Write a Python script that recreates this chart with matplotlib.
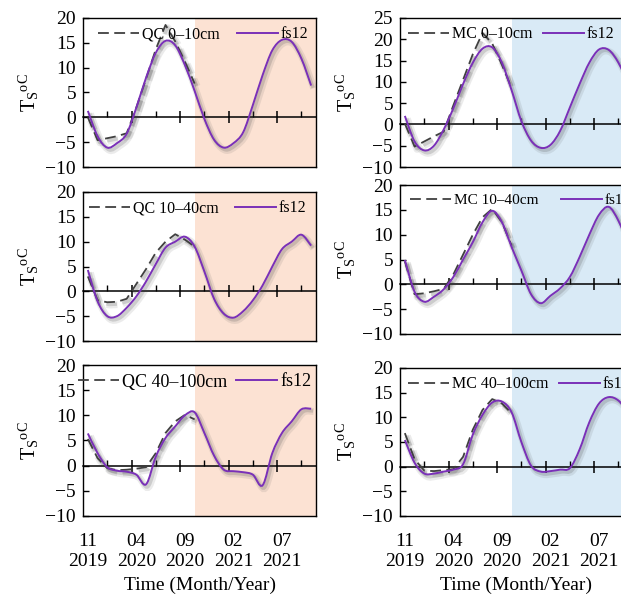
import numpy as np
import matplotlib
matplotlib.use("Agg")
import matplotlib.pyplot as plt
from matplotlib.path import Path
from matplotlib.patches import PathPatch
from matplotlib.lines import Line2D
import matplotlib.patheffects as pe

plt.rcParams['font.family'] = ['Liberation Serif', 'DejaVu Serif']
plt.rcParams['mathtext.fontset'] = 'custom'
plt.rcParams['mathtext.rm'] = 'Liberation Serif'
plt.rcParams['mathtext.it'] = 'Liberation Serif:italic'
plt.rcParams['font.size'] = 14

# months since Nov 2019 (monthly values, Nov 2019 - Oct 2021)
months = np.arange(24)
obs_months = np.arange(12)   # observations, Nov 2019 - Oct 2020

tick_months = [0, 5, 10, 15, 20]
tick_labels = ['11\n2019', '04\n2020', '09\n2020', '02\n2021', '07\n2021']

# fs12 simulated soil temperature
fs12_qc_0_10 = [1.3, -3.8, -6.1, -5.2, -3.3, 2.0, 8.0, 13.0, 15.4, 14.5, 10.5, 5.3,
                -0.3, -4.5, -6.1, -5.2, -3.0, 2.5, 8.5, 13.5, 15.6, 15.2, 11.8, 6.4]
fs12_qc_10_40 = [4.3, -2.0, -5.0, -5.0, -3.3, -1.0, 2.0, 5.5, 8.8, 10.0, 11.0, 9.0,
                 4.0, -1.5, -4.5, -5.3, -4.0, -1.8, 1.2, 5.0, 8.5, 10.0, 11.4, 9.2]
fs12_qc_40_100 = [6.4, 2.5, -0.3, -1.0, -1.2, -1.8, -3.7, 1.8, 5.5, 7.8, 10.0, 10.6,
                  6.5, 2.0, -0.8, -1.1, -1.3, -1.8, -3.9, 2.5, 6.5, 8.8, 11.2, 11.3]
fs12_mc_0_10 = [2.0, -4.0, -6.1, -5.0, -1.2, 3.8, 9.5, 14.5, 17.8, 18.1, 14.5, 8.0,
                0.8, -3.8, -5.5, -4.8, -1.5, 4.0, 9.5, 14.5, 17.6, 17.5, 14.5, 9.5]
fs12_mc_10_40 = [4.9, -1.5, -3.5, -2.5, -1.0, 1.5, 5.0, 8.5, 12.5, 14.8, 12.5, 7.5,
                 2.8, -2.0, -3.8, -2.3, -0.8, 1.5, 5.5, 10.0, 14.0, 15.6, 12.8, 8.0]
fs12_mc_40_100 = [5.4, 0.8, -1.4, -1.4, -1.0, -0.6, 0.5, 6.5, 10.5, 13.0, 13.2, 11.0,
                  5.0, 0.2, -1.0, -0.9, -0.6, -0.3, 3.5, 9.0, 12.8, 14.1, 13.4, 11.0]

# observed soil temperature
obs_qc_0_10 = [0.0, -4.6, -4.2, -3.8, -3.2, 2.0, 7.8, 13.7, 18.6, 15.3, 11.2, 6.8]
obs_qc_10_40 = [3.0, -1.8, -2.2, -2.1, -1.5, 1.5, 4.5, 7.8, 10.0, 11.5, 10.4, 9.0]
obs_qc_40_100 = [5.3, 1.5, -0.5, -0.9, -0.8, -0.6, -0.3, 2.5, 6.5, 8.8, 10.1, 9.2]
obs_mc_0_10 = [0.2, -5.2, -4.0, -2.8, -1.7, 4.5, 10.5, 16.5, 21.5, 19.0, 14.0, 8.5]
obs_mc_10_40 = [4.6, -2.0, -1.8, -1.4, -0.9, 2.0, 6.0, 10.0, 13.5, 15.2, 12.5, 7.8]
obs_mc_40_100 = [6.8, 1.5, -0.8, -0.9, -0.7, -0.5, 2.0, 7.5, 11.5, 13.7, 12.8, 10.8]

obs_labels = ['QC 0\u201310cm', 'MC 0\u201310cm', 'QC 10\u201340cm',
              'MC 10\u201340cm', 'QC 40\u2013100cm', 'MC 40\u2013100cm']
ylims = [(-10, 20), (-10, 25), (-10, 20), (-10, 20), (-10, 20), (-10, 20)]
shade_start = 11

purple = '#7A30B8'
dash_col = '#404040'
shade_cols = ['#FCE2D3', '#D9EAF6']

shadow = [pe.SimpleLineShadow(offset=(1.8, -2.0), shadow_color='0.25', alpha=0.10, linewidth=5),
          pe.SimpleLineShadow(offset=(1.4, -1.6), shadow_color='0.25', alpha=0.18, linewidth=2.5),
          pe.Normal()]


def smooth_path(x, y):
    # Catmull-Rom style cubic Bezier through the monthly values
    x = np.asarray(x, float)
    y = np.asarray(y, float)
    n = len(x)
    verts = [(x[0], y[0])]
    codes = [Path.MOVETO]
    for i in range(n - 1):
        i0 = max(i - 1, 0)
        i3 = min(i + 2, n - 1)
        c1 = (x[i] + (x[i + 1] - x[i0]) / 6, y[i] + (y[i + 1] - y[i0]) / 6)
        c2 = (x[i + 1] - (x[i3] - x[i]) / 6, y[i + 1] - (y[i3] - y[i]) / 6)
        verts += [c1, c2, (x[i + 1], y[i + 1])]
        codes += [Path.CURVE4] * 3
    return Path(verts, codes)


fig = plt.figure(figsize=(6.21, 5.96), dpi=100)
W, H = 621., 596.
# [left, top, bottom] in pixels for each panel
boxes = [(83, 18, 167), (400, 18, 167),
         (83, 192, 341), (400, 185, 334),
         (83, 365, 516), (400, 368, 516)]
# legend left edge, column gap (px) and font size per panel
leg_x = [15, 8, 6, 10, -5, 8]
leg_gap = [17, 10, 16, 22, 9, 10]
leg_fs = [11.5, 11.5, 11.5, 11, 13, 11.5]

sims = [fs12_qc_0_10, fs12_mc_0_10, fs12_qc_10_40, fs12_mc_10_40, fs12_qc_40_100, fs12_mc_40_100]
obss = [obs_qc_0_10, obs_mc_0_10, obs_qc_10_40, obs_mc_10_40, obs_qc_40_100, obs_mc_40_100]

for k in range(6):
    left, top, bot = boxes[k]
    ax = fig.add_axes([left / W, 1 - bot / H, 233 / W, (bot - top) / H])
    ymin, ymax = ylims[k]
    ax.set_xlim(-0.5, 23.5)
    ax.set_ylim(ymin, ymax)
    ax.axvspan(shade_start, 23.5, color=shade_cols[k % 2], lw=0, zorder=0)

    ax.plot(obs_months, obss[k], color=dash_col, lw=1.3, dashes=(6, 3),
            path_effects=shadow, zorder=3)
    ax.add_patch(PathPatch(smooth_path(months, sims[k]), fill=False,
                           edgecolor=purple, lw=1.4, path_effects=shadow, zorder=4))

    for s in ax.spines.values():
        s.set_linewidth(1.0)
    ax.set_yticks(np.arange(ymin, ymax + 1, 5))
    ax.set_yticklabels(['\u2212%d' % -v if v < 0 else '%d' % v for v in np.arange(ymin, ymax + 1, 5)])
    ax.tick_params(axis='y', direction='in', length=4, width=1, pad=5)
    ax.set_xticks(tick_months)
    ax.tick_params(axis='x', length=0, pad=12)
    if k >= 4:
        ax.set_xticklabels(tick_labels, linespacing=1.25)
        ax.set_xlabel('Time (Month/Year)', fontsize=14, labelpad=5)
    else:
        ax.set_xticklabels([])
    ax.set_ylabel(r'T$_\mathregular{S}$$^\mathregular{oC}$', fontsize=14.5, labelpad=3)

    # horizontal axis line at 0 degC with its tick marks
    zx = ax.secondary_xaxis((0 - ymin) / (ymax - ymin))
    zx.set_xticks([4.5, 9.5, 14.5, 19.5])
    zx.set_xticks([2, 7, 12, 17, 22], minor=True)
    zx.set_xticklabels([])
    zx.tick_params(which='major', direction='inout', length=8, width=1.1)
    zx.tick_params(which='minor', direction='in', length=4, width=1.0)
    zx.spines['bottom'].set_linewidth(1.1)

    em = leg_fs[k] * 100 / 72.
    handles = [Line2D([], [], color=dash_col, lw=1.3, dashes=(6, 3)),
               Line2D([], [], color=purple, lw=1.4)]
    ax.legend(handles, [obs_labels[k], 'fs12'], loc='upper left',
              bbox_to_anchor=(leg_x[k] / 233, 1 - 8.5 / (bot - top)),
              ncol=2, frameon=False, handlelength=41 / em, handletextpad=3 / em,
              columnspacing=leg_gap[k] / em, borderaxespad=0, borderpad=0,
              fontsize=leg_fs[k])

fig.savefig('out.png', dpi=100)
